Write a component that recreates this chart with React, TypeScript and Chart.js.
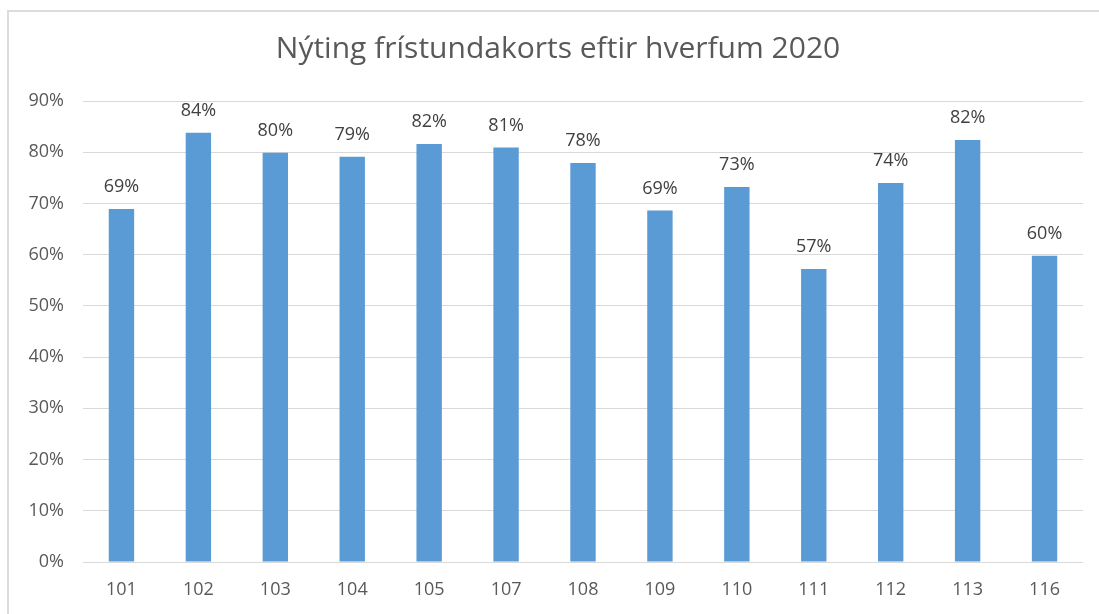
import React, { useEffect, useRef } from "react";
import { Chart, registerables } from "chart.js";

Chart.register(...registerables);

const title = "Nýting frístundakorts eftir hverfum 2020";
const categories = ["101", "102", "103", "104", "105", "107", "108", "109", "110", "111", "112", "113", "116"];
const values = [68.9, 83.8, 79.9, 79.1, 81.6, 80.9, 77.9, 68.6, 73.2, 57.2, 74.0, 82.4, 59.8];
const valueLabels = ["69%", "84%", "80%", "79%", "82%", "81%", "78%", "69%", "73%", "57%", "74%", "82%", "60%"];
const yTicks = [0, 10, 20, 30, 40, 50, 60, 70, 80, 90];

const FONT = "'Open Sans', 'Liberation Sans', sans-serif";

const decorPlugin = {
  id: "decor",
  beforeDraw(chart: any) {
    const ctx = chart.ctx;
    ctx.save();
    ctx.fillStyle = "#ffffff";
    ctx.fillRect(0, 0, chart.width, chart.height);
    ctx.strokeStyle = "#dcdcdc";
    ctx.lineWidth = 2;
    ctx.beginPath();
    ctx.moveTo(8, chart.height + 5);
    ctx.lineTo(8, 11);
    ctx.lineTo(chart.width + 5, 11);
    ctx.stroke();
    ctx.restore();
  },
  afterDraw(chart: any) {
    const ctx = chart.ctx;
    ctx.save();
    ctx.fillStyle = "#595959";
    ctx.font = `30px ${FONT}`;
    ctx.textAlign = "center";
    ctx.textBaseline = "middle";
    ctx.fillText(title, 558, 49);
    const meta = chart.getDatasetMeta(0);
    ctx.fillStyle = "#404040";
    ctx.font = `18px ${FONT}`;
    ctx.textBaseline = "alphabetic";
    meta.data.forEach((bar: any, i: number) => {
      ctx.fillText(valueLabels[i], bar.x, bar.y - 17);
    });
    ctx.restore();
  },
};

export default function App() {
  const ref = useRef<HTMLCanvasElement>(null);
  useEffect(() => {
    const canvas = ref.current!;
    const chart = new Chart(canvas, {
      type: "bar",
      data: {
        labels: categories,
        datasets: [
          {
            data: values,
            backgroundColor: "#5b9bd5",
            barPercentage: 0.33,
            categoryPercentage: 1,
          },
        ],
      },
      options: {
        responsive: false,
        animation: false,
        layout: { padding: { top: 101, right: 16, left: 0, bottom: 0 } },
        plugins: { legend: { display: false }, tooltip: { enabled: false }, title: { display: false } },
        scales: {
          x: {
            grid: { display: false },
            border: { display: false },
            ticks: { color: "#595959", font: { family: FONT, size: 18 }, padding: 9 },
            afterFit(scale: any) {
              scale.height = 52;
            },
          },
          y: {
            min: 0,
            max: 90,
            afterBuildTicks(scale: any) {
              scale.ticks = yTicks.map((v) => ({ value: v }));
            },
            grid: { color: "#d9d9d9", drawTicks: false, lineWidth: 1 },
            border: { display: false },
            ticks: {
              color: "#595959",
              font: { family: FONT, size: 18 },
              padding: 19,
              callback: (v: any) => `${v}%`,
            },
            afterFit(scale: any) {
              scale.width = 83;
            },
          },
        },
      },
      plugins: [decorPlugin],
    });
    return () => chart.destroy();
  }, []);
  return (
    <div style={{ position: "fixed", left: 0, top: 0, width: 1099, height: 614, overflow: "hidden", background: "#fff" }}>
      <canvas ref={ref} width={1099} height={614} style={{ display: "block" }} />
    </div>
  );
}
